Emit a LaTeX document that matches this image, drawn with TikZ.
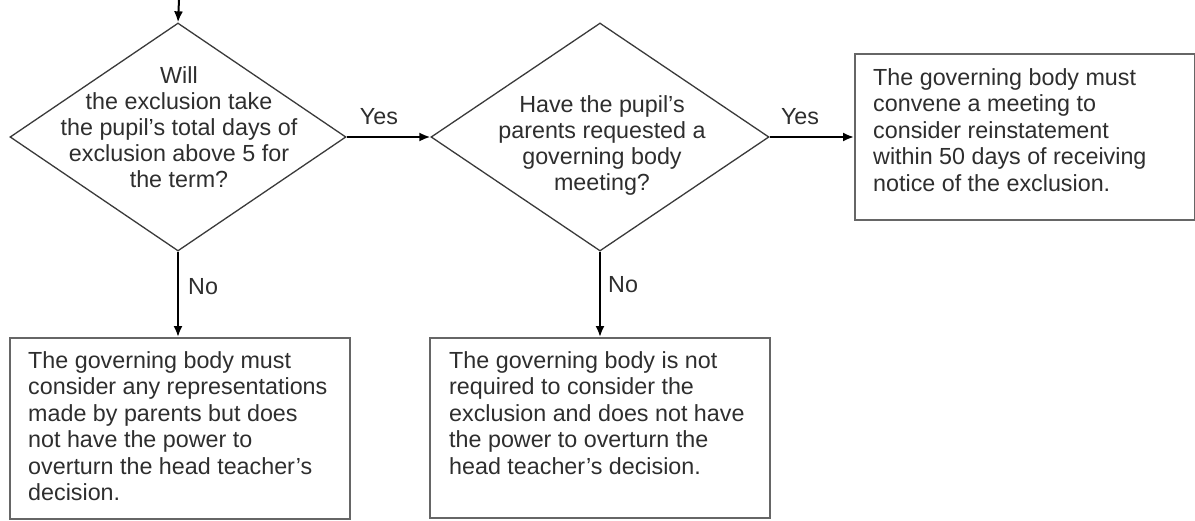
\documentclass[tikz,border=0pt]{standalone}
\usepackage{fontspec}
\setmainfont{Liberation Sans}
\usetikzlibrary{shapes.geometric,arrows.meta}
\definecolor{txt}{HTML}{2E2E2E}
\definecolor{edge}{HTML}{3A3A3A}
\definecolor{boxedge}{HTML}{666666}
\tikzset{
  decision/.style={diamond, draw=edge, line width=1.3pt, inner sep=0pt, minimum width=#1, minimum height=228pt},
  outcome/.style={rectangle, draw=boxedge, line width=1.6pt, inner sep=0pt, anchor=north west},
  qtext/.style={inner sep=0pt, align=center, anchor=north, text=txt, font=\fontsize{23.3}{26}\selectfont},
  btext/.style={inner sep=0pt, align=left, anchor=north west, text=txt, font=\fontsize{23.3}{26.5}\selectfont},
  lbl/.style={inner sep=0pt, text=txt, font=\fontsize{23.3}{26}\selectfont},
  flow/.style={draw=black, line width=2pt, -{Latex[length=11pt,width=9pt]}}
}
\begin{document}
\begin{tikzpicture}[x=1pt,y=-1pt]
\useasboundingbox[fill=white] (0,0) rectangle (1195,520);
% decisions
\node[decision=336pt] (d1) at (178,137) {};
\node[decision=338pt] (d2) at (600,137) {};
\node[qtext] (d1t) at (179,66) {Will\\the exclusion take\\the pupil’s total days of\\exclusion above 5 for\\the term?};
\node[qtext] (d2t) at (602,95) {Have the pupil’s\\parents requested a\\governing body\\meeting?};
% outcome boxes
\node[outcome, minimum width=340pt, minimum height=166pt] (b3) at (854,53) {};
\node[outcome, minimum width=340pt, minimum height=181pt] (b1) at (9,337) {};
\node[outcome, minimum width=340pt, minimum height=180pt] (b2) at (429,337) {};
\node[btext] (b3t) at (873,68) {The governing body must\\convene a meeting to\\consider reinstatement\\within 50 days of receiving\\notice of the exclusion.};
\node[btext] (b1t) at (28,351) {The governing body must\\consider any representations\\made by parents but does\\not have the power to\\overturn the head teacher’s\\decision.};
\node[btext] (b2t) at (449,351) {The governing body is not\\required to consider the\\exclusion and does not have\\the power to overturn the\\head teacher’s decision.};
% connectors
\coordinate (start) at (179,0);
\draw[flow] (start) -- (d1.north);
\draw[flow] (d1.east) -- (d2.west);
\draw[flow] (d2.east) -- (b3.west |- d2.east);
\draw[flow] (d1.south) -- (d1.south |- b1.north);
\draw[flow] (d2.south) -- (d2.south |- b2.north);
% labels
\node[lbl] (y1) at (379,117) {Yes};
\node[lbl] (y2) at (800,117) {Yes};
\node[lbl, anchor=west] (n1) at (188,287) {No};
\node[lbl, anchor=west] (n2) at (608,285) {No};
\end{tikzpicture}
\end{document}
